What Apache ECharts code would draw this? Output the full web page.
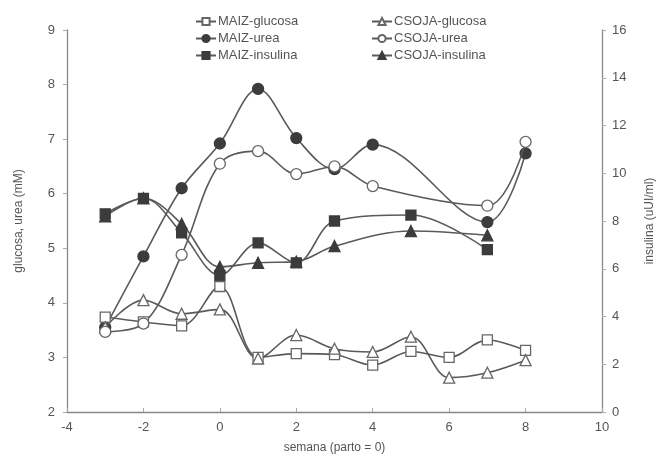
<!DOCTYPE html>
<html><head><meta charset="utf-8">
<script src="https://cdn.jsdelivr.net/npm/echarts@6/dist/echarts.min.js"></script>
<style>html,body{margin:0;padding:0;background:#fff}#c{width:664px;height:468px}</style>
</head><body><div id="c"></div>
<script>
const weeks = [-3, -2, -1, 0, 1, 2, 3, 4, 5, 6, 7, 8];
const maizGlucosa   = [3.74, 3.65, 3.58, 4.3, 3.0, 3.07, 3.05, 2.86, 3.11, 3.0, 3.32, 3.13];
const csojaGlucosa  = [3.55, 4.05, 3.8, 3.88, 2.98, 3.41, 3.16, 3.1, 3.38, 2.63, 2.72, 2.95];
const maizUrea      = [3.55, 4.85, 6.1, 6.92, 7.92, 7.02, 6.45, 6.9, null, null, 5.48, 6.74];
const csojaUrea     = [3.47, 3.62, 4.88, 6.55, 6.78, 6.36, 6.5, 6.14, null, null, 5.78, 6.95];
const maizInsulina  = [8.3, 8.95, 7.5, 5.72, 7.08, 6.25, 8.0, null, 8.25, null, 6.8, null];
const csojaInsulina = [8.2, 8.95, 7.88, 6.08, 6.25, 6.3, 6.95, null, 7.58, null, 7.4, null];
const leftTicks = [2, 9, 1];
const rightTicks = [0, 16, 2];
const xTicks = [-4, 10, 2];

const pairs = arr => weeks.map((w, i) => [w, arr[i]]);
const lineC = '#5a5a5a', dark = '#3c3c3c', txt = '#555';
function mk(name, arr, symbol, filled, yIdx, size) {
  return {
    name, type: 'line', yAxisIndex: yIdx, data: pairs(arr), connectNulls: true,
    smooth: 0.35, symbol, symbolSize: size, showSymbol: true,
    lineStyle: { color: lineC, width: 1.6 },
    itemStyle: { color: filled ? dark : '#fff', borderColor: filled ? dark : '#666', borderWidth: 1.3 },
    z: filled ? 3 : 4
  };
}
const tri = 'triangle';
const chart = echarts.init(document.getElementById('c'));
const axisText = { color: txt, fontFamily: 'Liberation Sans', fontSize: 13 };
chart.setOption({
  backgroundColor: '#fff',
  animation: false,
  grid: { left: 67, right: 59, top: 30, bottom: 56 },
  legend: [
    { left: 190, top: 10, orient: 'vertical', itemGap: 4, itemWidth: 20, itemHeight: 9,
      textStyle: { color: txt, fontFamily: 'Liberation Sans', fontSize: 13, padding: [0, 0, 0, -3] },
      data: ['MAIZ-glucosa', 'MAIZ-urea', 'MAIZ-insulina'] },
    { left: 366, top: 10, orient: 'vertical', itemGap: 4, itemWidth: 20, itemHeight: 9,
      textStyle: { color: txt, fontFamily: 'Liberation Sans', fontSize: 13, padding: [0, 0, 0, -3] },
      data: ['CSOJA-glucosa', 'CSOJA-urea', 'CSOJA-insulina'] }
  ],
  xAxis: {
    type: 'value', min: xTicks[0], max: xTicks[1], interval: xTicks[2],
    name: 'semana (parto = 0)', nameLocation: 'middle', nameGap: 30,
    nameTextStyle: { color: txt, fontFamily: 'Liberation Sans', fontSize: 12 },
    axisLine: { onZero: false, lineStyle: { color: '#888', width: 1.3 } },
    axisTick: { show: true, inside: true, length: 4, lineStyle: { color: '#aaa' } },
    axisLabel: Object.assign({ margin: 9 }, axisText),
    splitLine: { show: false }
  },
  yAxis: [
    { type: 'value', min: leftTicks[0], max: leftTicks[1], interval: leftTicks[2],
      name: 'glucosa, urea (mM)', nameLocation: 'middle', nameGap: 42, nameRotate: 90,
      nameTextStyle: { color: txt, fontFamily: 'Liberation Sans', fontSize: 12 },
      axisLine: { show: true, onZero: false, lineStyle: { color: '#888', width: 1.3 } },
      axisTick: { show: true, length: 4, lineStyle: { color: '#aaa' } },
      axisLabel: Object.assign({ margin: 12 }, axisText),
      splitLine: { show: false } },
    { type: 'value', min: rightTicks[0], max: rightTicks[1], interval: rightTicks[2], position: 'right',
      name: 'insulina (uUI/ml)', nameLocation: 'middle', nameGap: 42, nameRotate: 90,
      nameTextStyle: { color: txt, fontFamily: 'Liberation Sans', fontSize: 12 },
      axisLine: { show: true, onZero: false, lineStyle: { color: '#888', width: 1.3 } },
      axisTick: { show: true, length: 4, lineStyle: { color: '#aaa' } },
      axisLabel: Object.assign({ margin: 10 }, axisText),
      splitLine: { show: false } }
  ],
  series: [
    mk('MAIZ-glucosa', maizGlucosa, 'rect', false, 0, 10),
    mk('MAIZ-urea', maizUrea, 'circle', true, 0, 11),
    mk('MAIZ-insulina', maizInsulina, 'rect', true, 1, 10),
    mk('CSOJA-glucosa', csojaGlucosa, tri, false, 0, 11),
    mk('CSOJA-urea', csojaUrea, 'circle', false, 0, 11),
    mk('CSOJA-insulina', csojaInsulina, tri, true, 1, 11)
  ]
});
</script></body></html>
